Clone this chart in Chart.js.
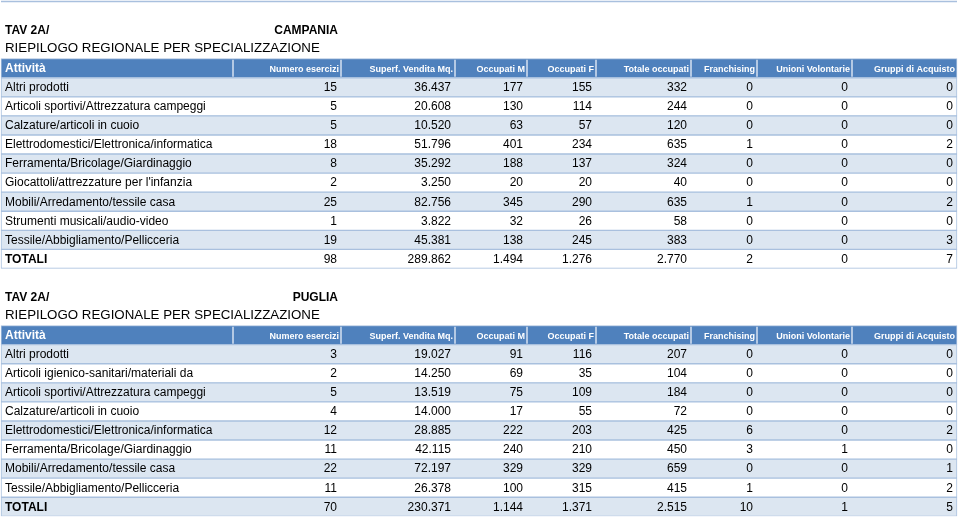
<!DOCTYPE html>
<html>
<head>
<meta charset="utf-8">
<script src="https://cdn.jsdelivr.net/npm/chart.js@4/dist/chart.umd.min.js"></script>
<style>
  html, body { margin: 0; padding: 0; background: #fff; }
  #wrap { width: 960px; height: 521px; }
</style>
</head>
<body>
<div id="wrap"><canvas id="table" width="960" height="521"></canvas></div>
<script>
// column headers
const HEADERS = ["Attività", "Numero esercizi", "Superf. Vendita Mq.", "Occupati M", "Occupati F",
                 "Totale occupati", "Franchising", "Unioni Volontarie", "Gruppi di Acquisto"];

// CAMPANIA
const campaniaAttivita = [
    "Altri prodotti",
    "Articoli sportivi/Attrezzatura campeggi",
    "Calzature/articoli in cuoio",
    "Elettrodomestici/Elettronica/informatica",
    "Ferramenta/Bricolage/Giardinaggio",
    "Giocattoli/attrezzature per l'infanzia",
    "Mobili/Arredamento/tessile casa",
    "Strumenti musicali/audio-video",
    "Tessile/Abbigliamento/Pellicceria"
];
const campaniaEsercizi = [15, 5, 5, 18, 8, 2, 25, 1, 19];
const campaniaSuperf = [36437, 20608, 10520, 51796, 35292, 3250, 82756, 3822, 45381];
const campaniaOccM = [177, 130, 63, 401, 188, 20, 345, 32, 138];
const campaniaOccF = [155, 114, 57, 234, 137, 20, 290, 26, 245];
const campaniaOccTot = [332, 244, 120, 635, 324, 40, 635, 58, 383];
const campaniaFranch = [0, 0, 0, 1, 0, 0, 1, 0, 0];
const campaniaUnioni = [0, 0, 0, 0, 0, 0, 0, 0, 0];
const campaniaGruppi = [0, 0, 0, 2, 0, 0, 2, 0, 3];
const campaniaTotali = [98, 289862, 1494, 1276, 2770, 2, 0, 7];

// PUGLIA
const pugliaAttivita = [
    "Altri prodotti",
    "Articoli igienico-sanitari/materiali da",
    "Articoli sportivi/Attrezzatura campeggi",
    "Calzature/articoli in cuoio",
    "Elettrodomestici/Elettronica/informatica",
    "Ferramenta/Bricolage/Giardinaggio",
    "Mobili/Arredamento/tessile casa",
    "Tessile/Abbigliamento/Pellicceria"
];
const pugliaEsercizi = [3, 2, 5, 4, 12, 11, 22, 11];
const pugliaSuperf = [19027, 14250, 13519, 14000, 28885, 42115, 72197, 26378];
const pugliaOccM = [91, 69, 75, 17, 222, 240, 329, 100];
const pugliaOccF = [116, 35, 109, 55, 203, 210, 329, 315];
const pugliaOccTot = [207, 104, 184, 72, 425, 450, 659, 415];
const pugliaFranch = [0, 0, 0, 0, 6, 3, 0, 1];
const pugliaUnioni = [0, 0, 0, 0, 0, 1, 0, 0];
const pugliaGruppi = [0, 0, 0, 0, 2, 0, 1, 2];
const pugliaTotali = [70, 230371, 1144, 1371, 2515, 10, 1, 5];

// layout (table units along the x scale)
const COL_EDGES = [1, 233, 341, 455, 527, 596, 691, 757, 852, 957];
const HEADER_BLUE = "#4f81bd";
const ROW_SHADE = "#dce6f1";
const BORDER = "#a9c0de";
const FONT = "'Liberation Sans', Arial, sans-serif";

const fmt = n => String(n).replace(/\B(?=(\d{3})+(?!\d))/g, ".");

// one slot per printed line
const slots = [{ type: "gap" }];
function addTable(region, attivita, cols, totali) {
    slots.push({ type: "title", region });
    slots.push({ type: "subtitle" });
    slots.push({ type: "header" });
    attivita.forEach((name, i) => {
        slots.push({ type: "row", label: name, values: cols.map(c => c[i]), shade: i % 2 === 0 });
    });
    slots.push({ type: "total", label: "TOTALI", values: totali, shade: attivita.length % 2 === 0 });
}
addTable("CAMPANIA", campaniaAttivita,
    [campaniaEsercizi, campaniaSuperf, campaniaOccM, campaniaOccF, campaniaOccTot, campaniaFranch, campaniaUnioni, campaniaGruppi],
    campaniaTotali);
slots.push({ type: "gap" });
addTable("PUGLIA", pugliaAttivita,
    [pugliaEsercizi, pugliaSuperf, pugliaOccM, pugliaOccF, pugliaOccTot, pugliaFranch, pugliaUnioni, pugliaGruppi],
    pugliaTotali);

const tableLeft = COL_EDGES[0];
const tableRight = COL_EDGES[COL_EDGES.length - 1];
const hasBox = s => s.type === "header" || s.type === "row" || s.type === "total";

const rowBars = slots.map(s => hasBox(s) ? [tableLeft, tableRight] : null);
const rowFills = slots.map(s => {
    if (s.type === "header") return HEADER_BLUE;
    if (s.type === "row" || s.type === "total") return s.shade ? ROW_SHADE : "#ffffff";
    return "rgba(0,0,0,0)";
});

const tableText = {
    id: "tableText",
    afterDatasetsDraw(chart) {
        const ctx = chart.ctx;
        const xs = chart.scales.x;
        const ys = chart.scales.y;
        const half = (ys.getPixelForValue(1) - ys.getPixelForValue(0)) / 2;
        const px = v => xs.getPixelForValue(v);
        ctx.save();

        // bottom edge of the table above
        ctx.strokeStyle = BORDER;
        ctx.lineWidth = 1.5;
        ctx.beginPath();
        ctx.moveTo(px(tableLeft), ys.getPixelForValue(0) - half);
        ctx.lineTo(px(tableRight), ys.getPixelForValue(0) - half);
        ctx.stroke();

        ctx.textBaseline = "middle";
        slots.forEach((s, i) => {
            const y = ys.getPixelForValue(i);
            if (s.type === "title") {
                ctx.fillStyle = "#000";
                ctx.font = "bold 12px " + FONT;
                ctx.textAlign = "left";
                ctx.fillText("TAV 2A/", px(tableLeft) + 4, y + 1);
                ctx.textAlign = "right";
                ctx.fillText(s.region, px(COL_EDGES[2]) - 3, y + 1);
            } else if (s.type === "subtitle") {
                ctx.fillStyle = "#000";
                ctx.font = "13.3px " + FONT;
                ctx.textAlign = "left";
                ctx.fillText("RIEPILOGO REGIONALE PER SPECIALIZZAZIONE", px(tableLeft) + 4, y - 0.5);
            } else if (s.type === "header") {
                ctx.strokeStyle = "#b4c9e4";
                ctx.lineWidth = 2;
                for (let c = 1; c < COL_EDGES.length - 1; c++) {
                    ctx.beginPath();
                    ctx.moveTo(px(COL_EDGES[c]), y - half + 1);
                    ctx.lineTo(px(COL_EDGES[c]), y + half - 1);
                    ctx.stroke();
                }
                ctx.fillStyle = "#ffffff";
                ctx.font = "bold 12px " + FONT;
                ctx.textAlign = "left";
                ctx.fillText(HEADERS[0], px(tableLeft) + 4, y + 0.5);
                ctx.font = "bold 9px " + FONT;
                ctx.textAlign = "right";
                for (let c = 1; c < HEADERS.length; c++) {
                    ctx.fillText(HEADERS[c], px(COL_EDGES[c + 1]) - 2, y + 1.5);
                }
            } else if (s.type === "row" || s.type === "total") {
                ctx.fillStyle = "#000";
                ctx.font = (s.type === "total" ? "bold " : "") + "12px " + FONT;
                ctx.textAlign = "left";
                ctx.fillText(s.label, px(tableLeft) + 4, y + 0.5);
                ctx.font = "12px " + FONT;
                ctx.textAlign = "right";
                s.values.forEach((v, c) => {
                    ctx.fillText(fmt(v), px(COL_EDGES[c + 2]) - 4, y + 0.5);
                });
            }
        });
        ctx.restore();
    }
};

new Chart(document.getElementById("table"), {
    type: "bar",
    data: {
        labels: slots.map((s, i) => String(i)),
        datasets: [{
            data: rowBars,
            backgroundColor: rowFills,
            borderColor: slots.map(s => hasBox(s) ? BORDER : "rgba(0,0,0,0)"),
            borderWidth: 1,
            borderSkipped: false,
            barPercentage: 1,
            categoryPercentage: 1
        }]
    },
    options: {
        indexAxis: "y",
        responsive: false,
        animation: false,
        devicePixelRatio: 1,
        layout: { padding: { top: 1.5, bottom: 4.7, left: 0, right: 0 } },
        plugins: { legend: { display: false }, tooltip: { enabled: false } },
        scales: {
            x: { type: "linear", min: 0, max: 960, display: false },
            y: { type: "category", display: false }
        }
    },
    plugins: [tableText]
});
</script>
</body>
</html>
